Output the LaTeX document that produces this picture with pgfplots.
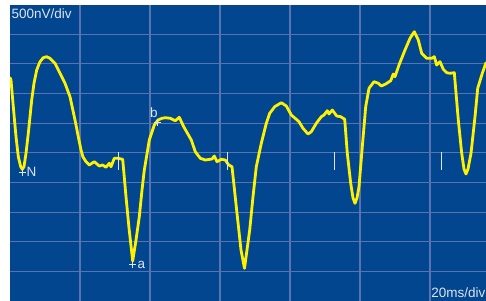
\documentclass[border=0pt]{standalone}
\usepackage{pgfplots}
\pgfplotsset{compat=1.18}
\usepackage{fontspec}
\setmainfont{Liberation Sans}
\definecolor{scopebg}{RGB}{2,70,144}
\definecolor{gridc}{RGB}{88,116,176}
\definecolor{trace}{RGB}{255,242,0}
\definecolor{lbl}{RGB}{220,228,240}
\begin{document}
\begin{tikzpicture}
\useasboundingbox (-10bp,0) rectangle (476bp,301bp);
\begin{axis}[
  scale only axis, width=476bp, height=296.4bp,
  at={(0,0)}, anchor=south west,
  xmin=10, xmax=486, ymin=4.6, ymax=301, y dir=reverse,
  axis background/.style={fill=scopebg},
  axis line style={draw=none},
  xtick={80,150,220,290,360,430},
  ytick={34.2,63.9,93.5,123.1,152.8,182.4,212.1,241.7,271.4},
  xticklabels={}, yticklabels={},
  major tick length=0pt,
  grid=major,
  major grid style={gridc, line width=1.1bp},
  clip=true,
]
% scope trace (pixel coordinates: x right, y down)
\addplot[trace, line width=2.8bp, line join=round, line cap=round] coordinates {
(10,77.7) (11,80) (13.3,106.7) (16,136.7) (18.3,156.7) (20.7,166.7) (22.3,169.3)
(24,166.7) (26,153.3) (28.3,133.3) (30,116.7) (31.7,100) (34,83.3) (36.7,70)
(40,61.7) (43.3,57.7) (46.7,56.7) (50,58.3) (55,63.3) (60,73.3) (65,83.3)
(70,96.7) (75,120) (78.3,136.7) (81,150) (83,157) (86,161.7) (89.3,165)
(94.3,161.7) (99.3,166) (102.7,165) (106,167.3) (109.3,163.3) (111,166.7)
(114.3,158.3) (117.7,158.3) (122.7,159.3) (126,196.7) (129,228) (132.7,261)
(136,240) (139.3,216.7) (142,190) (144.3,170) (149.3,140) (154.3,125) (158,120)
(162,118.3) (165.3,117.7) (170.3,118.3) (175.3,120.7) (179.3,117.3) (183.7,126.7)
(191.3,140) (195.3,151.7) (200.3,158.3) (205.3,160) (212,159) (214.3,156)
(217,161.7) (221.3,159.3) (225.3,160) (228.7,165) (232,166.7) (237,213.3)
(241,250) (244.5,268.3) (249.7,230) (253,196.7) (256.3,166.7) (261.3,143.3)
(266.3,123.3) (269.7,113.3) (274.7,106.7) (281.3,102.7) (286.3,106) (291.3,115)
(296.3,119.3) (299,121.7) (303,128.3) (308,134) (311.3,131.7) (316.3,123.3)
(321.3,116.7) (324,115) (327.3,110.7) (329,114) (332.3,110) (336.7,116)
(340.7,116.7) (344.7,119.3) (347.3,153.3) (350.7,183.3) (353,198) (355,203.3)
(357,198) (359,186.7) (362.3,146.7) (365.7,106.7) (369,88.3) (374,81.7)
(378.3,83.3) (381.3,86) (385.7,84) (390.7,80.7) (393.3,74) (395,76.7) (399,65)
(405,50) (410,38.3) (414.3,31.7) (418.3,40) (421.7,53.3) (426.7,58.3)
(431.7,58.3) (434.3,56.7) (436.7,65) (440,61.7) (443.3,69.3) (446.7,72.7)
(450,73.3) (454.3,72.7) (458.3,120) (461.7,153.3) (464,169) (466,174) (468,169)
(471,153.3) (475,116.7) (477.7,88.3) (482.3,73.3) (486,62.7)
};
% cursor ticks
\addplot[lbl, line width=1bp] coordinates {(118,151.5) (118,170)};
\addplot[lbl, line width=1bp] coordinates {(227,151.5) (227,170)};
\addplot[lbl, line width=1bp] coordinates {(334,151.5) (334,170)};
\addplot[lbl, line width=1bp] coordinates {(441,151.5) (441,170)};
% markers
\addplot[only marks, mark=+, mark size=3.5bp, lbl, line width=0.9bp] coordinates {(22,172.5) (132.7,264.5) (157,122.5)};
\node[lbl, anchor=west, font=\fontsize{13.5bp}{14bp}\selectfont, inner sep=0pt] at (axis cs:26.5,172) {N};
\node[lbl, anchor=west, font=\fontsize{13.5bp}{14bp}\selectfont, inner sep=0pt] at (axis cs:137.5,265) {a};
\node[lbl, anchor=base west, font=\fontsize{13.5bp}{14bp}\selectfont, inner sep=0pt] at (axis cs:149.8,117.5) {b};
\node[lbl, anchor=base west, font=\fontsize{13.5bp}{14bp}\selectfont, inner sep=0pt] at (axis cs:11.5,18.4) {500nV/div};
\node[lbl, anchor=base east, font=\fontsize{13.5bp}{14bp}\selectfont, inner sep=0pt] at (axis cs:485.5,297.6) {20ms/div};
\end{axis}
\end{tikzpicture}
\end{document}
